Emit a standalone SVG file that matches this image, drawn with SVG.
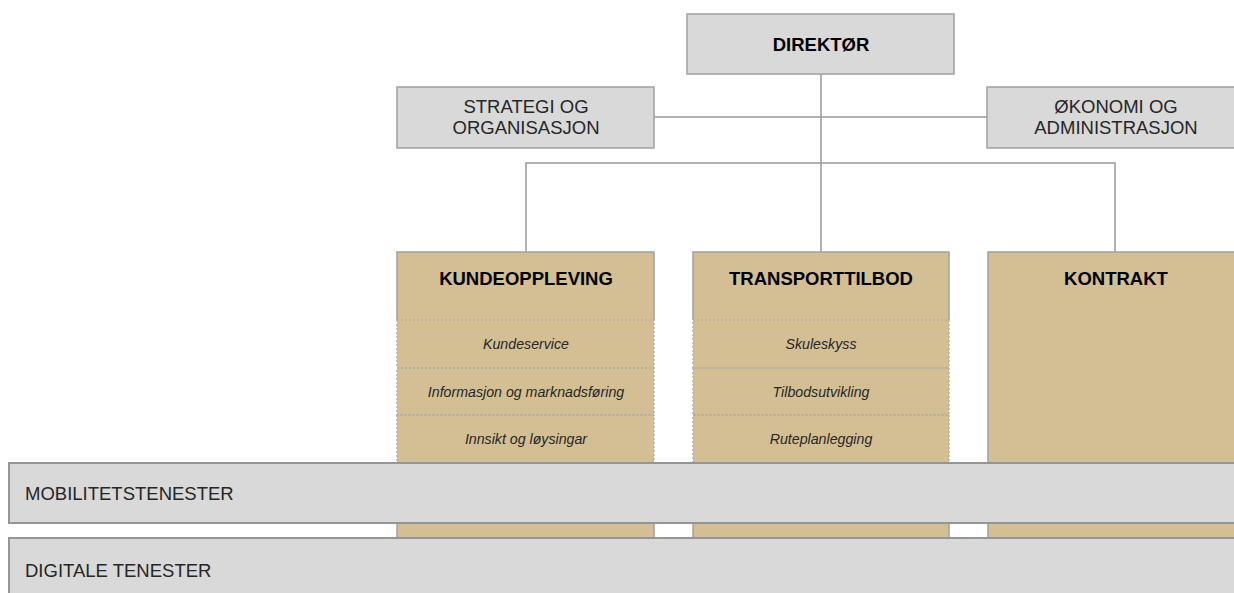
<svg xmlns="http://www.w3.org/2000/svg" width="1234" height="593" viewBox="0 0 1234 593">
<style>
.g{fill:#d9d9d9;stroke:#a0a0a0;stroke-width:1.5}
.band{fill:#d9d9d9;stroke:#959595;stroke-width:2}
.tan{fill:#d4bf94}
.solid{fill:none;stroke:#a0a0a0;stroke-width:1.5}
.dot{fill:none;stroke:#a8a8a8;stroke-width:1.2;stroke-dasharray:2 2}
.c{fill:none;stroke:#999;stroke-width:1.5}
text{font-family:"Liberation Sans",Arial,sans-serif;fill:#262626}
.b{font-weight:bold;font-size:18.5px;text-anchor:middle;fill:#000}
.r{font-size:18.5px;text-anchor:middle}
.i{font-style:italic;font-size:14.2px;text-anchor:middle}
.l{font-size:18.5px}
</style>
<g id="connectors">
<line class="c" x1="821" y1="74" x2="821" y2="252"/>
<line class="c" x1="654" y1="117" x2="987" y2="117"/>
<polyline class="c" points="526,252 526,163 1115,163 1115,252"/>
</g>
<g id="direktor">
<rect class="g" x="687" y="14" width="267" height="60"/>
<text class="b" x="821" y="50.5">DIREKTØR</text>
</g>
<g id="strategi">
<rect class="g" x="397" y="87" width="257" height="61"/>
<text class="r" x="526" y="113">STRATEGI OG</text>
<text class="r" x="526" y="134">ORGANISASJON</text>
</g>
<g id="okonomi">
<rect class="g" x="987" y="87" width="260" height="61"/>
<text class="r" x="1116" y="113">ØKONOMI OG</text>
<text class="r" x="1116" y="134">ADMINISTRASJON</text>
</g>
<g id="kundeopplevelse">
<rect class="tan" x="397" y="252" width="257" height="341"/>
<polyline class="solid" points="397,320 397,252 654,252 654,320"/>
<line class="solid" x1="397" y1="463" x2="397" y2="593"/>
<line class="solid" x1="654" y1="463" x2="654" y2="593"/>
<rect class="dot" x="397" y="320" width="257" height="48"/>
<rect class="dot" x="397" y="368" width="257" height="47"/>
<rect class="dot" x="397" y="415" width="257" height="48"/>
<text class="b" x="526" y="285">KUNDEOPPLEVING</text>
<text class="i" x="526" y="349">Kundeservice</text>
<text class="i" x="526" y="397">Informasjon og marknadsføring</text>
<text class="i" x="526" y="444">Innsikt og løysingar</text>
</g>
<g id="transporttilbod">
<rect class="tan" x="693" y="252" width="256" height="341"/>
<polyline class="solid" points="693,320 693,252 949,252 949,320"/>
<line class="solid" x1="693" y1="463" x2="693" y2="593"/>
<line class="solid" x1="949" y1="463" x2="949" y2="593"/>
<rect class="dot" x="693" y="320" width="256" height="48"/>
<rect class="dot" x="693" y="368" width="256" height="47"/>
<rect class="dot" x="693" y="415" width="256" height="48"/>
<text class="b" x="821" y="285">TRANSPORTTILBOD</text>
<text class="i" x="821" y="349">Skuleskyss</text>
<text class="i" x="821" y="397">Tilbodsutvikling</text>
<text class="i" x="821" y="444">Ruteplanlegging</text>
</g>
<g id="kontrakt">
<rect class="tan" x="988" y="252" width="256" height="341" stroke="#a0a0a0" stroke-width="1.5"/>
<text class="b" x="1116" y="285">KONTRAKT</text>
</g>
<g id="mobilitetstenester">
<rect class="band" x="9" y="463" width="1235" height="60"/>
<text class="l" x="25" y="500">MOBILITETSTENESTER</text>
</g>
<g id="digitale-tenester">
<rect class="band" x="9" y="538" width="1235" height="65"/>
<text class="l" x="25" y="577">DIGITALE TENESTER</text>
</g>
</svg>
